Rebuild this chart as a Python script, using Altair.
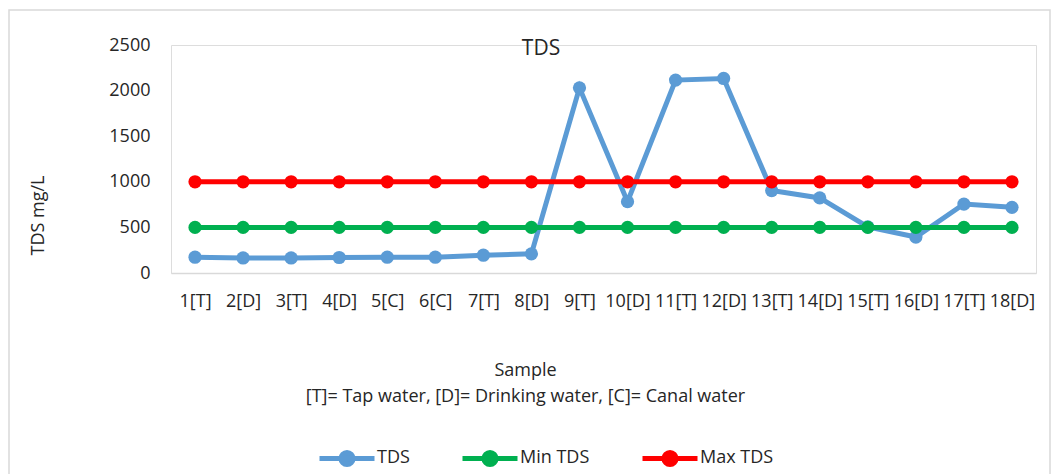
import altair as alt
import pandas as pd

samples = ["1[T]", "2[D]", "3[T]", "4[D]", "5[C]", "6[C]", "7[T]", "8[D]", "9[T]",
           "10[D]", "11[T]", "12[D]", "13[T]", "14[D]", "15[T]", "16[D]", "17[T]", "18[D]"]
tds = [173, 165, 165, 170, 173, 173, 195, 210, 2030, 782, 2115, 2133, 904, 823, 505, 394, 756, 720]
min_tds = [500, 500, 500, 500, 500, 500, 500, 500, 500, 500, 500, 500, 500, 500, 500, 500, 500, 500]
max_tds = [1000, 1000, 1000, 1000, 1000, 1000, 1000, 1000, 1000, 1000, 1000, 1000, 1000, 1000, 1000, 1000, 1000, 1000]
series_names = ["TDS", "Min TDS", "Max TDS"]
series_colors = ["#5B9BD5", "#00B050", "#FF0000"]
y_ticks = [0, 500, 1000, 1500, 2000, 2500]
chart_title = "TDS"

rows = []
for name, vals in zip(series_names, [tds, min_tds, max_tds]):
    for s, v in zip(samples, vals):
        rows.append({"sample": s, "series": name, "value": v})
df = pd.DataFrame(rows)

FONT = "Open Sans"
TXT = "#262626"

legend_path = "M-1,0L1,0M0.22,0A0.22,0.22,0,1,1,-0.22,0A0.22,0.22,0,1,1,0.22,0Z"
legend = alt.Legend(
    title=None, orient="none", direction="horizontal", legendX=146, legendY=383,
    symbolType=legend_path, symbolSize=3025, symbolStrokeWidth=5,
    labelFont=FONT, labelFontSize=18, labelColor=TXT, labelOffset=0,
    columnPadding=42,
)
scale_c = alt.Scale(domain=series_names, range=series_colors)

x_enc = alt.X(
    "sample:N", sort=samples,
    scale=alt.Scale(type="point", padding=0.5),
    axis=alt.Axis(
        title=["Sample", "[T]= Tap water, [D]= Drinking water, [C]= Canal water"],
        titleFont=FONT, titleFontSize=18, titleFontWeight="normal", titleColor=TXT,
        titleX=354, titleY=88, titleAlign="center", titleBaseline="top", titleLineHeight=26,
        labelFont=FONT, labelFontSize=18, labelColor=TXT, labelAngle=0, labelPadding=19,
        ticks=False, domainColor="#D9D9D9", domainWidth=1.5, grid=False,
    ),
)
y_enc = alt.Y(
    "value:Q",
    scale=alt.Scale(domain=[0, 2500], nice=False),
    axis=alt.Axis(
        title="TDS mg/L", values=y_ticks, format="d",
        titleFont=FONT, titleFontSize=18, titleFontWeight="normal", titleColor=TXT,
        titleX=-133, titleY=170, titleAlign="center", titleBaseline="middle", titleAngle=-90,
        labelFont=FONT, labelFontSize=18, labelColor=TXT, labelPadding=21,
        ticks=False, domain=False, grid=False,
    ),
)

one = pd.DataFrame({"t": [chart_title]})
border = alt.Chart(one).mark_rect(
    fill="transparent", stroke="#D9D9D9", strokeWidth=1.5
).encode(x=alt.value(-162), x2=alt.value(879), y=alt.value(-35), y2=alt.value(445))
title_txt = alt.Chart(one).mark_text(
    font=FONT, fontSize=21, color=TXT, align="center", baseline="middle"
).encode(text="t:N", x=alt.value(370), y=alt.value(4))

layers = [border, title_txt]
for name in series_names:
    base = alt.Chart(df).transform_filter(alt.datum.series == name)
    layers.append(base.mark_line(strokeWidth=5).encode(
        x=x_enc, y=y_enc,
        stroke=alt.Stroke("series:N", scale=scale_c, legend=legend),
    ))
    layers.append(base.mark_point(filled=True, size=175, opacity=1).encode(
        x=x_enc, y=y_enc,
        fill=alt.Fill("series:N", scale=scale_c, legend=legend),
    ))

chart = alt.layer(*layers).properties(
    width=865, height=228,
    autosize=alt.AutoSizeParams(type="none"),
    padding={"left": 163, "top": 37, "right": 16, "bottom": 201},
).configure_view(stroke=None).configure(background="white")

chart.save("out.html", embed_options={"renderer": "svg", "actions": False})
